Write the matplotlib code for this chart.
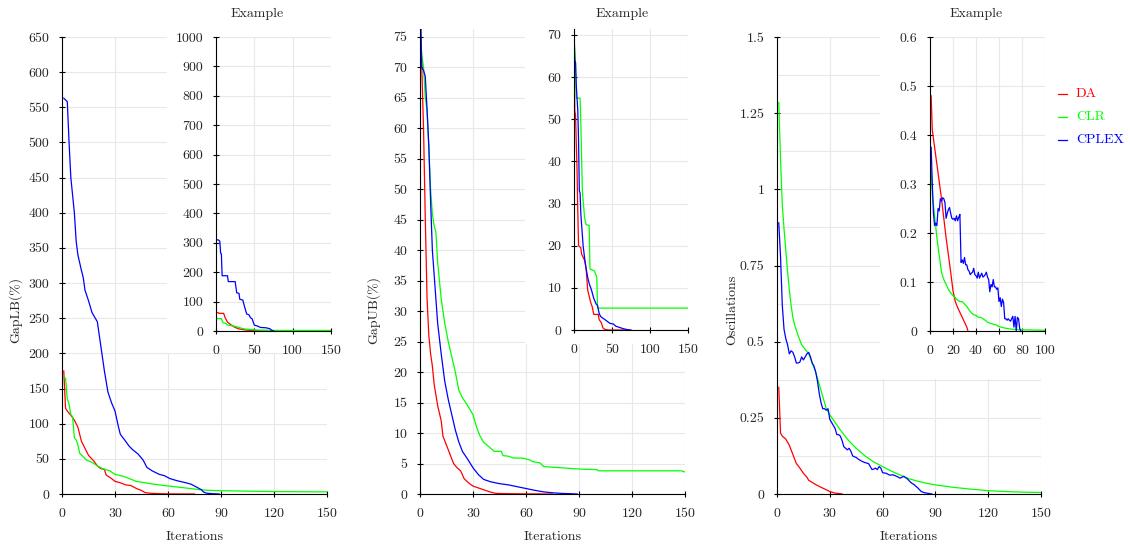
import matplotlib
matplotlib.use("Agg")
import matplotlib.pyplot as plt
from matplotlib.patches import Rectangle
from matplotlib.lines import Line2D

plt.rcParams['font.family'] = ['cmr10', 'DejaVu Serif']
plt.rcParams['mathtext.fontset'] = 'cm'
plt.rcParams['axes.formatter.use_mathtext'] = True

RED, GREEN, BLUE = '#ff0000', '#00ff00', '#0000ff'
series_names = ['DA', 'CLR', 'CPLEX']

# ---------------- GapLB main ----------------
lb_da_x = [1, 2, 3, 5, 7, 9, 11, 13, 15, 18, 20, 22, 24, 25, 28, 30, 33, 36, 39, 42, 45, 47, 50, 55, 60, 65, 75]
lb_da_y = [175, 122, 118, 112, 105, 95, 75, 65, 55, 47, 40, 36, 35, 27, 22, 18, 16, 13, 12, 8, 5, 2, 1, 0.5, 0.2, 0.1, 0]
lb_clr_x = [1, 2, 3, 4, 5, 6, 7, 8, 9, 10, 12, 14, 17, 20, 23, 27, 30, 35, 38, 42, 47, 52, 58, 65, 72, 78, 85, 95, 105, 120, 135, 150]
lb_clr_y = [165, 165, 135, 128, 113, 110, 80, 77, 70, 58, 53, 48, 45, 40, 36, 33, 28, 25, 22, 18, 16, 14, 12, 10, 8, 6, 5, 4.5, 4, 3.5, 3.2, 3]
lb_cplex_x = [1, 3, 4, 5, 7, 8, 9, 11, 12, 13, 15, 17, 20, 22, 24, 26, 28, 30, 32, 33, 36, 38, 40, 43, 46, 48, 51, 55, 58, 61, 65, 70, 73, 76, 79, 80, 82, 85, 89]
lb_cplex_y = [563, 558, 500, 450, 400, 360, 340, 318, 308, 290, 275, 258, 245, 210, 175, 145, 130, 118, 95, 85, 75, 68, 63, 57, 48, 38, 33, 28, 26, 22, 19, 16, 14, 10, 6, 3, 1, 0.5, 0]

# ---------------- GapLB inset ----------------
lbi_da_x = [0, 2, 4, 10, 12, 15, 20, 25, 30, 40, 50, 60, 150]
lbi_da_y = [63, 63, 60, 60, 45, 30, 20, 12, 7, 3, 1, 0, 0]
lbi_clr_x = [0, 7, 9, 13, 15, 20, 25, 30, 35, 40, 50, 60, 80, 150]
lbi_clr_y = [42, 42, 28, 26, 20, 18, 16, 12, 8, 6, 4, 3, 2, 2]
lbi_cplex_x = [0, 3, 5, 6, 7, 8, 15, 16, 25, 27, 30, 31, 35, 37, 40, 43, 45, 47, 50, 55, 58, 65, 70, 73, 75]
lbi_cplex_y = [310, 310, 305, 265, 262, 188, 188, 168, 168, 130, 128, 108, 105, 85, 58, 55, 45, 42, 20, 16, 12, 11, 8, 2, 0]

# ---------------- GapUB main ----------------
ub_da_x = [0, 1, 2, 3, 4, 5, 6, 7, 8, 10, 12, 13, 15, 17, 19, 21, 23, 25, 28, 30, 33, 36, 40, 43, 50, 60, 75]
ub_da_y = [76, 70, 60, 45, 32, 26, 23, 21, 18, 14.5, 12, 9.5, 8, 6.5, 5, 4.3, 3.8, 2.5, 1.7, 1.3, 1.0, 0.7, 0.3, 0.1, 0.05, 0.02, 0]
ub_clr_x = [0, 1, 2, 3, 4, 5, 6, 7, 8, 9, 10, 12, 14, 16, 18, 20, 22, 24, 27, 30, 32, 34, 36, 38, 40, 42, 46, 47, 50, 53, 58, 62, 64, 68, 70, 75, 80, 85, 90, 100, 101, 120, 140, 148, 150]
ub_clr_y = [76, 72, 70, 65, 63, 57, 50, 46, 44, 43, 38, 32, 28, 25, 22.5, 20, 17, 15.8, 14.5, 13, 11, 9.5, 8.5, 8, 7.5, 7, 7, 6.3, 6.2, 5.9, 5.9, 5.6, 5.3, 5.1, 4.5, 4.4, 4.3, 4.2, 4.1, 4.0, 3.8, 3.8, 3.8, 3.8, 3.6]
ub_cplex_x = [0.5, 1, 2, 3, 4, 5, 6, 7, 8, 9, 10, 12, 14, 16, 18, 20, 22, 24, 27, 30, 33, 36, 40, 45, 50, 55, 60, 65, 70, 75, 80, 85, 89]
ub_cplex_y = [77, 70, 69.5, 68.5, 63, 57, 48, 40, 36, 32, 28, 23, 18.5, 15.5, 13, 10.5, 8.5, 7, 5.7, 4.3, 3.2, 2.4, 2, 1.7, 1.5, 1.2, 0.9, 0.6, 0.35, 0.2, 0.1, 0.05, 0]

# ---------------- GapUB inset ----------------
ubi_da_x = [0, 1, 2, 4, 5, 6, 9, 10, 14, 16, 18, 20, 22, 24, 26, 32, 33, 36, 38, 40, 45, 70]
ubi_da_y = [70, 52, 51, 38, 28, 20, 19.5, 18, 16.5, 14.5, 9.5, 8, 6.5, 5.5, 3.7, 3.7, 2.5, 1.7, 0.5, 0.2, 0, 0]
ubi_clr_x = [0, 2, 3, 8, 9, 11, 14, 16, 20, 21, 27, 29, 30, 31, 150]
ubi_clr_y = [70, 63, 55, 55, 49, 33, 26.5, 25, 24.8, 14.5, 14, 13, 12.5, 5.2, 5.2]
ubi_cplex_x = [0, 1, 2, 3, 5, 6, 7, 8, 9, 10, 12, 14, 16, 18, 20, 23, 26, 29, 31, 33, 35, 38, 42, 47, 52, 55, 60, 65, 70, 75]
ubi_cplex_y = [71, 64, 63.5, 58, 52, 45, 33, 32.5, 27.5, 25, 20, 17, 14.5, 12.5, 11, 9.5, 7.5, 6.2, 5.8, 4, 3.2, 2.8, 2.3, 1.6, 1.4, 0.9, 0.6, 0.3, 0.1, 0]

# ---------------- Oscillations main ----------------
os_da_x = [1, 2, 3, 5, 7, 9, 11, 13, 15, 17, 18, 20, 22, 25, 28, 30, 33, 36, 37]
os_da_y = [0.35, 0.20, 0.19, 0.18, 0.16, 0.13, 0.10, 0.085, 0.068, 0.055, 0.045, 0.038, 0.031, 0.022, 0.014, 0.008, 0.003, 0.001, 0]
os_clr_x = [1, 2, 3, 4, 5, 6, 7, 8, 9, 10, 12, 14, 16, 18, 20, 22, 24, 26, 28, 30, 33, 36, 40, 45, 50, 55, 60, 65, 70, 75, 80, 85, 90, 100, 110, 120, 130, 140, 150]
os_clr_y = [1.285, 1.10, 0.95, 0.87, 0.80, 0.73, 0.67, 0.62, 0.58, 0.555, 0.52, 0.49, 0.475, 0.46, 0.43, 0.40, 0.36, 0.32, 0.28, 0.26, 0.235, 0.21, 0.18, 0.15, 0.125, 0.105, 0.09, 0.075, 0.062, 0.05, 0.042, 0.035, 0.03, 0.022, 0.016, 0.011, 0.008, 0.006, 0.005]
os_cplex_x = [1, 2, 3, 4, 5, 6, 7, 8, 9, 10, 11, 12, 13, 14, 15, 16, 17, 18, 19, 20, 21, 22, 23, 24, 25, 26, 27, 28, 29, 30, 31, 32, 33, 34, 35, 36, 37, 38, 39, 40, 41, 42, 43, 44, 45, 46, 48, 50, 52, 53, 54, 55, 56, 57, 58, 59, 60, 62, 64, 66, 68, 70, 72, 74, 76, 78, 80, 82, 84, 86, 88]
os_cplex_y = [0.89, 0.78, 0.62, 0.54, 0.51, 0.49, 0.46, 0.47, 0.465, 0.45, 0.43, 0.43, 0.433, 0.45, 0.44, 0.45, 0.46, 0.465, 0.45, 0.43, 0.42, 0.40, 0.37, 0.33, 0.30, 0.28, 0.28, 0.275, 0.28, 0.245, 0.235, 0.225, 0.215, 0.195, 0.195, 0.19, 0.175, 0.155, 0.15, 0.145, 0.15, 0.14, 0.125, 0.122, 0.12, 0.115, 0.108, 0.103, 0.10, 0.09, 0.08, 0.082, 0.085, 0.08, 0.09, 0.085, 0.07, 0.068, 0.062, 0.063, 0.058, 0.052, 0.058, 0.05, 0.038, 0.03, 0.02, 0.008, 0.004, 0.002, 0]

# ---------------- Oscillations inset ----------------
osi_da_x = [1, 2, 4, 6, 8, 10, 12, 14, 16, 18, 20, 22, 24, 26, 28, 30, 32, 33]
osi_da_y = [0.48, 0.41, 0.375, 0.34, 0.305, 0.27, 0.23, 0.19, 0.155, 0.12, 0.082, 0.06, 0.048, 0.038, 0.028, 0.018, 0.008, 0]
osi_clr_x = [1, 2, 4, 6, 8, 10, 12, 14, 16, 18, 20, 22, 24, 26, 28, 30, 32, 34, 36, 38, 40, 42, 44, 46, 48, 50, 52, 55, 58, 60, 65, 70, 75, 80, 90, 100]
osi_clr_y = [0.33, 0.28, 0.235, 0.19, 0.155, 0.12, 0.105, 0.095, 0.085, 0.078, 0.072, 0.068, 0.063, 0.06, 0.06, 0.055, 0.05, 0.043, 0.037, 0.033, 0.032, 0.028, 0.028, 0.025, 0.022, 0.018, 0.016, 0.014, 0.012, 0.009, 0.006, 0.004, 0.003, 0.0025, 0.002, 0.0015]
osi_cplex_x = list(range(1, 80))
osi_cplex_y = [0.375, 0.30, 0.24, 0.215, 0.22, 0.215, 0.25, 0.245, 0.27, 0.265, 0.272, 0.27, 0.262, 0.23, 0.24, 0.248, 0.252, 0.24, 0.23, 0.228,
               0.23, 0.225, 0.235, 0.225, 0.232, 0.238, 0.14, 0.145, 0.138, 0.15, 0.135, 0.135, 0.125, 0.122, 0.115, 0.118, 0.12, 0.128, 0.115, 0.113,
               0.108, 0.12, 0.108, 0.113, 0.118, 0.11, 0.112, 0.115, 0.12, 0.11, 0.105, 0.08, 0.095, 0.09, 0.105, 0.09, 0.09, 0.085, 0.088, 0.06,
               0.068, 0.05, 0.065, 0.058, 0.025, 0.025, 0.022, 0.025, 0.022, 0.02, 0.025, 0.03, 0.008, 0.03, 0.0, 0.028, 0.025, 0.005, 0.0]

W, H = 1130, 545
fig = plt.figure(figsize=(W / 100, H / 100), dpi=100)
fig.patch.set_facecolor('white')

TXT = '#262626'
GRID = '#e8e8e8'
FS = 10


def frac_rect(l, t, r, b):
    return [l / W, (H - b) / H, (r - l) / W, (b - t) / H]


def style(ax, xlim, ylim, xticks, yticks, ylabels=None, minor_y=None):
    ax.set_xlim(*xlim)
    ax.set_ylim(*ylim)
    ax.set_xticks(xticks)
    ax.set_xticklabels([str(v) for v in xticks])
    ax.set_yticks(yticks)
    ax.set_yticklabels(ylabels if ylabels is not None else [str(v) for v in yticks])
    if minor_y is not None:
        ax.set_yticks(minor_y, minor=True)
        ax.tick_params(axis='y', which='minor', length=0)
        ax.grid(True, which='minor', axis='y', color=GRID, lw=0.8)
    ax.grid(True, which='major', color=GRID, lw=0.8)
    ax.set_axisbelow(True)
    for s in ['top', 'right']:
        ax.spines[s].set_visible(False)
    for s in ['left', 'bottom']:
        ax.spines[s].set_color('black')
        ax.spines[s].set_linewidth(0.8)
        ax.spines[s].set_zorder(3)
    ax.tick_params(direction='inout', length=5, width=0.8, labelsize=FS,
                   labelcolor=TXT)
    ax.tick_params(axis='y', which='major', pad=6.5)
    ax.tick_params(axis='x', which='major', pad=7.5)
    ax.set_facecolor('white')


def plot3(ax, xs, ys):
    for x, y, c in zip(xs, ys, [RED, GREEN, BLUE]):
        ax.plot(x, y, color=c, lw=0.9, zorder=2, clip_on=True)


panels = [
    dict(main=(62, 37, 327, 494), inset=(216, 37, 331, 331), box=(167, 0, 345, 353),
         main_ylim=(0, 650), main_yt=list(range(0, 651, 50)), ylab='GapLB(%)', ylab_x=15,
         inset_xlim=(0, 150), inset_xt=[0, 50, 100, 150], inset_ylim=(0, 1000), inset_yt=list(range(0, 1001, 100)),
         main_data=([lb_da_x, lb_clr_x, lb_cplex_x], [lb_da_y, lb_clr_y, lb_cplex_y]),
         inset_data=([lbi_da_x, lbi_clr_x, lbi_cplex_x], [lbi_da_y, lbi_clr_y, lbi_cplex_y]),
         title_x=257),
    dict(main=(420, 29, 685, 494), inset=(574, 29, 688, 330), box=(525, 0, 702, 344),
         main_ylim=(0, 76.3), main_yt=list(range(0, 76, 5)), ylab='GapUB(%)', ylab_x=373,
         inset_xlim=(0, 150), inset_xt=[0, 50, 100, 150], inset_ylim=(0, 71.4), inset_yt=list(range(0, 71, 10)),
         main_data=([ub_da_x, ub_clr_x, ub_cplex_x], [ub_da_y, ub_clr_y, ub_cplex_y]),
         inset_data=([ubi_da_x, ubi_clr_x, ubi_cplex_x], [ubi_da_y, ubi_clr_y, ubi_cplex_y]),
         title_x=622),
    dict(main=(777, 37, 1041, 494), inset=(930, 37, 1045, 331), box=(880, 0, 1052, 379),
         main_ylim=(0, 1.5), main_yt=[0, 0.25, 0.5, 0.75, 1, 1.25, 1.5],
         main_ylabels=['0', '0.25', '0.5', '0.75', '1', '1.25', '1.5'],
         minor=[0.125, 0.375, 0.625, 0.875, 1.125, 1.375], ylab='Oscillations', ylab_x=732,
         inset_xlim=(0, 100), inset_xt=[0, 20, 40, 60, 80, 100], inset_ylim=(0, 0.6),
         inset_yt=[0, 0.1, 0.2, 0.3, 0.4, 0.5, 0.6],
         inset_ylabels=['0', '0.1', '0.2', '0.3', '0.4', '0.5', '0.6'],
         main_data=([os_da_x, os_clr_x, os_cplex_x], [os_da_y, os_clr_y, os_cplex_y]),
         inset_data=([osi_da_x, osi_clr_x, osi_cplex_x], [osi_da_y, osi_clr_y, osi_cplex_y]),
         title_x=976),
]

for p in panels:
    ax = fig.add_axes(frac_rect(*p['main']))
    ax.set_zorder(0)
    style(ax, (0, 150), p['main_ylim'], [0, 30, 60, 90, 120, 150], p['main_yt'],
          p.get('main_ylabels'), p.get('minor'))
    plot3(ax, *p['main_data'])
    fig.text((p['main'][0] + p['main'][2]) / 2 / W, 1 - 537 / H, 'Iterations', ha='center', va='center',
             fontsize=FS, color=TXT)
    fig.text(p['ylab_x'] / W, 1 - 310 / H, p['ylab'], rotation=90, ha='center', va='center',
             fontsize=FS, color=TXT)

    bl, bt, br, bb = p['box']
    fig.add_artist(Rectangle((bl / W, (H - bb) / H), (br - bl) / W, (bb - bt) / H,
                             transform=fig.transFigure, facecolor='white', edgecolor='none', zorder=1))

    ins = fig.add_axes(frac_rect(*p['inset']))
    ins.set_zorder(2)
    style(ins, p['inset_xlim'], p['inset_ylim'], p['inset_xt'], p['inset_yt'], p.get('inset_ylabels'))
    plot3(ins, *p['inset_data'])
    fig.text(p['title_x'] / W, 1 - 14 / H, 'Example', ha='center', va='center', fontsize=FS, color=TXT)

# legend
for name, c, yy in zip(series_names, [RED, GREEN, BLUE], [94, 117, 140]):
    fig.add_artist(Line2D([1058 / W, 1067 / W], [1 - yy / H, 1 - yy / H], transform=fig.transFigure,
                          color=c, lw=0.9))
    fig.text(1076 / W, 1 - yy / H, name, ha='left', va='center', fontsize=FS, color=c)

fig.savefig('out.png', dpi=100, facecolor='white')
